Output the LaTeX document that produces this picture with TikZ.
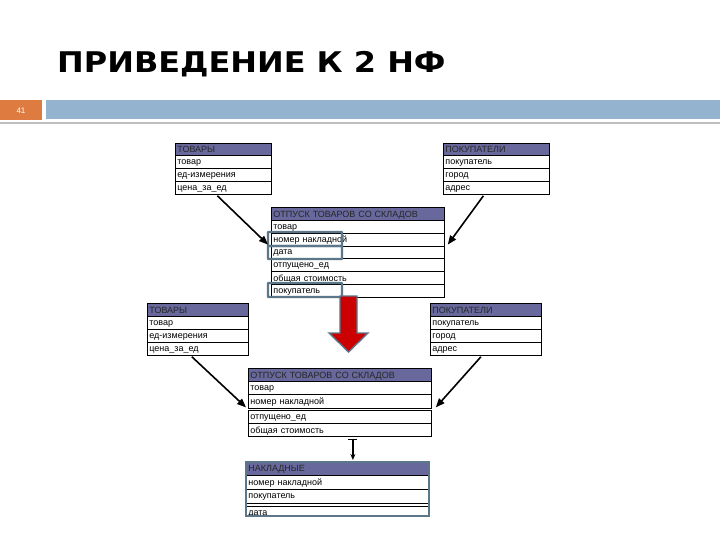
\documentclass[tikz,border=0pt]{standalone}
\usepackage{fontspec}
\setmainfont{Liberation Sans}
\newfontfamily\titlefont[FakeStretch=1.12]{DejaVu Sans}
\usetikzlibrary{arrows.meta,calc}
\definecolor{hdrblue}{RGB}{104,104,156}
\definecolor{slateedge}{RGB}{92,118,138}
\definecolor{bandblue}{RGB}{148,179,206}
\definecolor{bandorange}{RGB}{221,123,64}
\definecolor{arrowred}{RGB}{204,0,0}
\tikzset{
  cell/.style={draw=black, line width=0.8pt, anchor=north west, inner xsep=2pt, inner ysep=0pt,
    align=left, font=\fontsize{9}{9.5}\selectfont, text depth=0pt},
  hdr/.style={cell, fill=hdrblue, text=black!85},
  hilite/.style={draw=slateedge, line width=2.4pt, rounded corners=0.5pt},
  link/.style={line width=1.6pt, -{Triangle[length=9pt,width=7pt]}},
}
\begin{document}
\begin{tikzpicture}[x=1pt,y=-1pt]
\useasboundingbox (0,0) rectangle (720,540);
\fill[white] (0,0) rectangle (720,540);
% title
\node[anchor=base west, inner sep=0pt, font=\titlefont\bfseries\fontsize{28.5}{30}\selectfont] (title) at (57,73) {ПРИВЕДЕНИЕ К 2 НФ};
% band
\fill[bandorange] (0,100) rectangle (42,120);
\fill[bandblue] (46,100) rectangle (720,119);
\fill[black!25] (0,122) rectangle (720,124);
\node[text=white, font=\fontsize{8}{9}\selectfont, inner sep=0pt] (pnum) at (21,111) {41};

% ---- top ТОВАРЫ
\node[hdr, text width=92pt, minimum height=12pt] (a0) at (175,143) {ТОВАРЫ};
\node[cell, text width=92pt, minimum height=13pt] (a1) at (175,155) {товар};
\node[cell, text width=92pt, minimum height=13pt] (a2) at (175,168) {ед-измерения};
\node[cell, text width=92pt, minimum height=13pt] (a3) at (175,181) {цена\_за\_ед};
% ---- top ПОКУПАТЕЛИ
\node[hdr, text width=102pt, minimum height=12pt] (b0) at (443,143) {ПОКУПАТЕЛИ};
\node[cell, text width=102pt, minimum height=13pt] (b1) at (443,155) {покупатель};
\node[cell, text width=102pt, minimum height=13pt] (b2) at (443,168) {город};
\node[cell, text width=102pt, minimum height=13pt] (b3) at (443,181) {адрес};
% ---- top ОТПУСК
\node[hdr, text width=169pt, minimum height=13pt] (c0) at (271,207) {ОТПУСК ТОВАРОВ СО СКЛАДОВ};
\node[cell, text width=169pt, minimum height=12.8pt] (c1) at (271,220) {товар};
\node[cell, text width=169pt, minimum height=12.8pt] (c2) at (271,232.8) {номер накладной};
\node[cell, text width=169pt, minimum height=12.8pt] (c3) at (271,245.6) {дата};
\node[cell, text width=169pt, minimum height=12.8pt] (c4) at (271,258.4) {отпущено\_ед};
\node[cell, text width=169pt, minimum height=12.8pt] (c5) at (271,271.2) {общая стоимость};
\node[cell, text width=169pt, minimum height=12.8pt] (c6) at (271,284) {покупатель};
% highlight boxes
\draw[hilite] (268,232) rectangle (342,246);
\draw[hilite] (268,246) rectangle (342,259);
\draw[hilite] (268,283) rectangle (342,297);
% top arrows
\draw[link] ([xshift=-6pt,yshift=-1pt]a3.south) -- ([xshift=-3pt,yshift=-5pt]c2.west);
\draw[link] ([xshift=-13pt,yshift=-1pt]b3.south) -- ([xshift=3pt,yshift=-5pt]c2.east);

% red arrow
\draw[slateedge, line width=1.4pt, fill=arrowred, line join=miter]
  (340,296) -- (357,296) -- (357,333) -- (368,333) -- (348.5,352) -- (329,333) -- (340,333) -- cycle;

% ---- bottom ТОВАРЫ
\node[hdr, text width=97pt, minimum height=13pt] (d0) at (147,303) {ТОВАРЫ};
\node[cell, text width=97pt, minimum height=13pt] (d1) at (147,316) {товар};
\node[cell, text width=97pt, minimum height=13pt] (d2) at (147,329) {ед-измерения};
\node[cell, text width=97pt, minimum height=13pt] (d3) at (147,342) {цена\_за\_ед};
% ---- bottom ПОКУПАТЕЛИ
\node[hdr, text width=107pt, minimum height=13pt] (e0) at (430,303) {ПОКУПАТЕЛИ};
\node[cell, text width=107pt, minimum height=13pt] (e1) at (430,316) {покупатель};
\node[cell, text width=107pt, minimum height=13pt] (e2) at (430,329) {город};
\node[cell, text width=107pt, minimum height=13pt] (e3) at (430,342) {адрес};
% ---- bottom ОТПУСК
\node[hdr, text width=179pt, minimum height=13pt] (f0) at (248,368) {ОТПУСК ТОВАРОВ СО СКЛАДОВ};
\node[cell, text width=179pt, minimum height=13pt] (f1) at (248,381) {товар};
\node[cell, text width=179pt, minimum height=14pt] (f2) at (248,394) {номер накладной};
\node[cell, text width=179pt, minimum height=13pt] (f3) at (248,410) {отпущено\_ед};
\node[cell, text width=179pt, minimum height=13pt] (f4) at (248,423) {общая стоимость};
% bottom arrows
\draw[link] ([xshift=-6pt,yshift=-1pt]d3.south) -- ([xshift=-2pt,yshift=-6pt]f2.west);
\draw[link] ([xshift=-5pt,yshift=-1pt]e3.south) -- ([xshift=4pt,yshift=-6pt]f2.east);

% ---- НАКЛАДНЫЕ
\begin{scope}
\clip (244,460) rectangle (431,515);
\node[hdr, text width=179pt, minimum height=13pt] (g0) at (246,462) {НАКЛАДНЫЕ};
\node[cell, text width=179pt, minimum height=14pt] (g1) at (246,475) {номер накладной};
\node[cell, text width=179pt, minimum height=14pt] (g2) at (246,489) {покупатель};
\node[cell, text width=179pt, minimum height=14pt, yshift=-3pt] (g3) at (246,503) {дата};
\end{scope}
\draw[slateedge, line width=2.6pt] (246,462) rectangle (429,516);
% one-to-many connector
\draw[line width=1.4pt, {Bar[width=9pt]}-{Stealth[length=6pt,width=5pt]}]
  ([xshift=13pt,yshift=-2pt]f4.south) -- ([xshift=15pt,yshift=2pt]g0.north);
\end{tikzpicture}
\end{document}
